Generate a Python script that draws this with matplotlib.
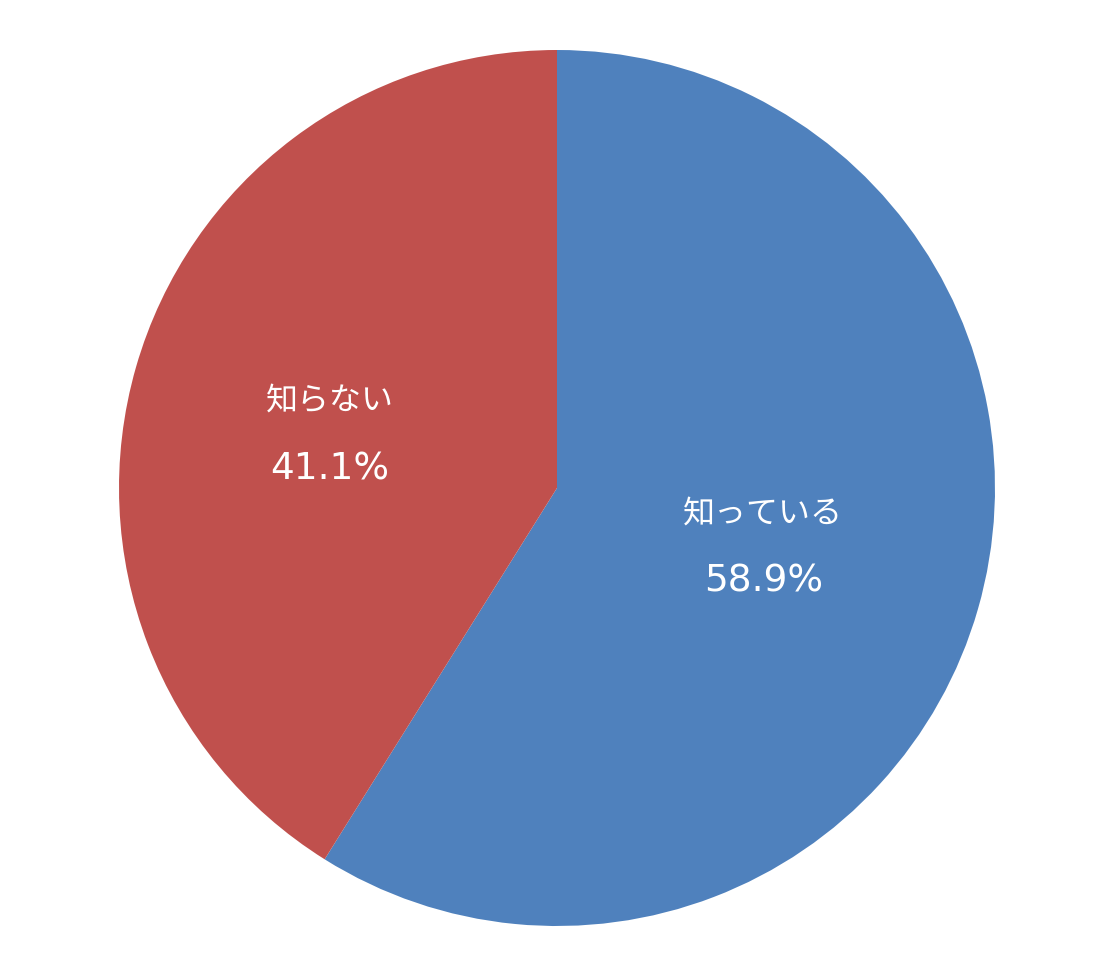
import numpy as np
import matplotlib
matplotlib.use("Agg")
import matplotlib.pyplot as plt

plt.rcParams['font.family'] = ['Noto Sans CJK JP', 'DejaVu Sans']

# Data
labels = ['知っている', '知らない']
values = [58.9, 41.1]
colors = ['#4F81BD', '#C0504D']
label_dist = [0.49, 0.54]
label_dy = [0.0, -0.028]

fig = plt.figure(figsize=(11.15, 9.77), dpi=100)
ax = fig.add_axes([119 / 1115, 51 / 977, 876 / 1115, 876 / 977])

wedges, _ = ax.pie(values, colors=colors, startangle=90, counterclock=False,
                   radius=1.0, wedgeprops=dict(linewidth=0))

for w, lab, val, d, dy in zip(wedges, labels, values, label_dist, label_dy):
    ang = np.deg2rad((w.theta1 + w.theta2) / 2)
    x, y = d * np.cos(ang), d * np.sin(ang) + dy
    ax.text(x, y + 0.078, lab, ha='center', va='center', color='white', fontsize=23)
    ax.text(x, y - 0.078, f'{val:.1f}%', ha='center', va='center', color='white',
            fontsize=27, family='DejaVu Sans')

ax.set_xlim(-1, 1)
ax.set_ylim(-1, 1)
ax.set_aspect('equal')
ax.axis('off')

fig.savefig('out.png', dpi=100)
